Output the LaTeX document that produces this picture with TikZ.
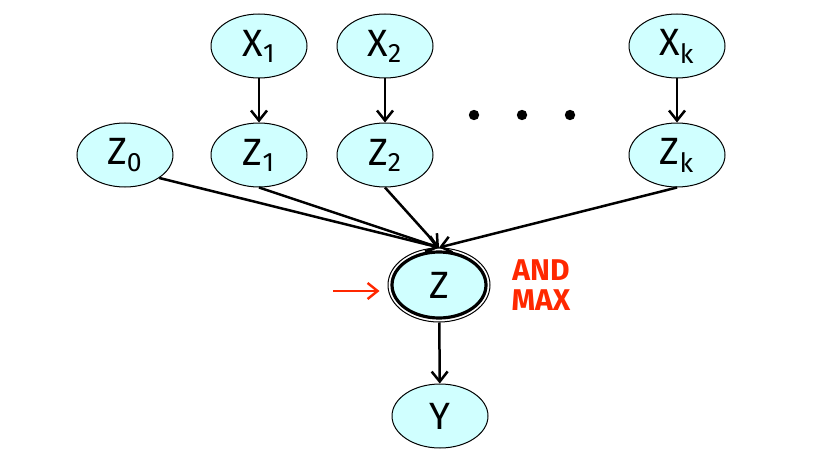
\documentclass[tikz,border=0pt]{standalone}
\usepackage{fontspec}
\setmainfont{Fira Sans}
\usetikzlibrary{shapes.geometric,arrows.meta}
\definecolor{nodecyan}{RGB}{208,255,255}
\definecolor{notered}{RGB}{255,40,0}

\begin{document}
\begin{tikzpicture}
	[x=0.5pt, y=-0.5pt, line width=1.25pt,
	 >={Straight Barb[length=5pt,width=8pt]},
	 var/.style={ellipse, draw, line width=0.5pt, fill=nodecyan,
		minimum width=48pt, minimum height=32pt, inner sep=0pt,
		font=\fontsize{19}{22}\selectfont}]
	\useasboundingbox (0,0) rectangle (834,460);
	\foreach \i/\xx in {1/259,2/385,k/677}
	{	\node[var] (x\i) at (\xx,46) {X\textsubscript{\i}};
		\node[var] (z\i) at (\xx,155) {Z\textsubscript{\i}};
		\draw[->] (x\i) -- (z\i);
		}
	\node[var] (z0) at (125,155) {Z\textsubscript{0}};
	\foreach \xx in {474,522,570}
		\fill (\xx,115) circle (2.6pt);
	% the AND/MAX node
	\node[var, line width=1.6pt, minimum width=47pt, minimum height=33pt] (z) at (439,285) {Z};
	\node[ellipse, draw, line width=0.5pt, minimum width=51pt, minimum height=37pt] (zring) at (z) {};
	\foreach \s in {z0.south east, z1.south, z2.south, zk.south}
		\draw[->] (\s) -- (zring.north);
	\node[var] (y) at (440,416) {Y};
	\draw[->] (zring) -- (y);
	% red remark
	\coordinate (hint) at (333,291);
	\draw[->, notered, line width=1.2pt, shorten >=4pt] (hint) -- (zring.west |- hint);
	\node[text=notered, align=center, font=\fontsize{15}{15}\selectfont\bfseries] (note) at (541,285) {AND\\MAX};
\end{tikzpicture}
\end{document}
